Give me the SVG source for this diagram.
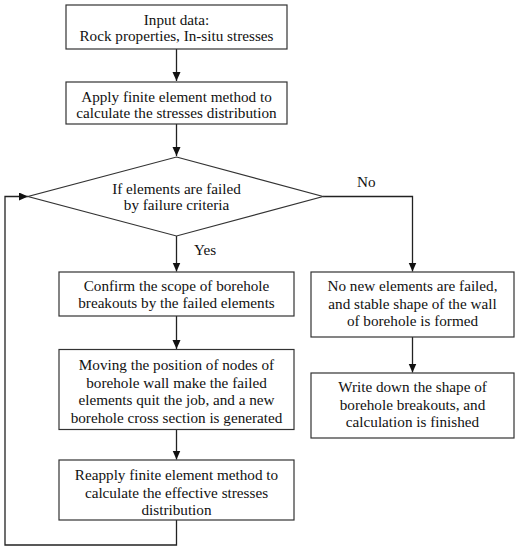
<svg xmlns="http://www.w3.org/2000/svg" width="519" height="550" viewBox="0 0 519 550">
<style>
.box{fill:#fff;stroke:#333;stroke-width:1.2}
.t{font-family:"Liberation Serif","Times New Roman",serif;font-size:15.2px;fill:#111;text-anchor:middle}
.l{font-family:"Liberation Serif","Times New Roman",serif;font-size:15.2px;fill:#111}
.c{fill:none;stroke:#222;stroke-width:1.3}
</style>
<defs>
<marker id="ah" markerUnits="userSpaceOnUse" markerWidth="10" markerHeight="10" refX="9" refY="4" orient="auto">
<path d="M0,0 L9,4 L0,8 Z" fill="#111"/>
</marker>
</defs>
<rect width="519" height="550" fill="#fff"/>
<g id="connectors">
<path class="c" d="M176.5,49 V81" marker-end="url(#ah)"/>
<path class="c" d="M176.5,124 V156" marker-end="url(#ah)"/>
<path class="c" d="M176.5,236 V271.5" marker-end="url(#ah)"/>
<path class="c" d="M323,196.5 H412.5 V271.5" marker-end="url(#ah)"/>
<path class="c" d="M176.5,316 V349" marker-end="url(#ah)"/>
<path class="c" d="M176.5,429 V459.5" marker-end="url(#ah)"/>
<path class="c" d="M176.5,520 V545 H5 V196.5 H28" marker-end="url(#ah)"/>
<path class="c" d="M412.5,337 V372.5" marker-end="url(#ah)"/>
<text class="l" x="357" y="187">No</text>
<text class="l" x="194" y="255">Yes</text>
</g>
<g id="input">
<rect class="box" x="66" y="5" width="221" height="44"/>
<text class="t" x="176.5" y="25">Input data:</text>
<text class="t" x="176.5" y="41">Rock properties, In-situ stresses</text>
</g>
<g id="fem">
<rect class="box" x="66" y="82" width="221" height="42"/>
<text class="t" x="176.5" y="102">Apply finite element method to</text>
<text class="t" x="176.5" y="117.5">calculate the stresses distribution</text>
</g>
<g id="decision">
<polygon class="box" points="176.5,157 323,196.5 176.5,236 28,196.5"/>
<text class="t" x="176.5" y="193.5">If elements are failed</text>
<text class="t" x="176.5" y="210">by failure criteria</text>
</g>
<g id="confirm">
<rect class="box" x="59" y="272" width="235" height="44"/>
<text class="t" x="176.5" y="291">Confirm the scope of borehole</text>
<text class="t" x="176.5" y="308">breakouts by the failed elements</text>
</g>
<g id="moving">
<rect class="box" x="59" y="349.5" width="235" height="80"/>
<text class="t" x="176.5" y="369.5">Moving the position of nodes of</text>
<text class="t" x="176.5" y="387.5">borehole wall make the failed</text>
<text class="t" x="176.5" y="405">elements quit the job, and a new</text>
<text class="t" x="176.5" y="423">borehole cross section is generated</text>
</g>
<g id="reapply">
<rect class="box" x="59" y="460" width="235" height="60"/>
<text class="t" x="176.5" y="480">Reapply finite element method to</text>
<text class="t" x="176.5" y="498">calculate the effective stresses</text>
<text class="t" x="176.5" y="515">distribution</text>
</g>
<g id="stable">
<rect class="box" x="311" y="272" width="203" height="65"/>
<text class="t" x="412.5" y="291">No new elements are failed,</text>
<text class="t" x="412.5" y="308.5">and stable shape of the wall</text>
<text class="t" x="412.5" y="326">of borehole is formed</text>
</g>
<g id="write">
<rect class="box" x="311" y="373" width="203" height="65"/>
<text class="t" x="412.5" y="392">Write down the shape of</text>
<text class="t" x="412.5" y="409.5">borehole breakouts, and</text>
<text class="t" x="412.5" y="427">calculation is finished</text>
</g>
</svg>
